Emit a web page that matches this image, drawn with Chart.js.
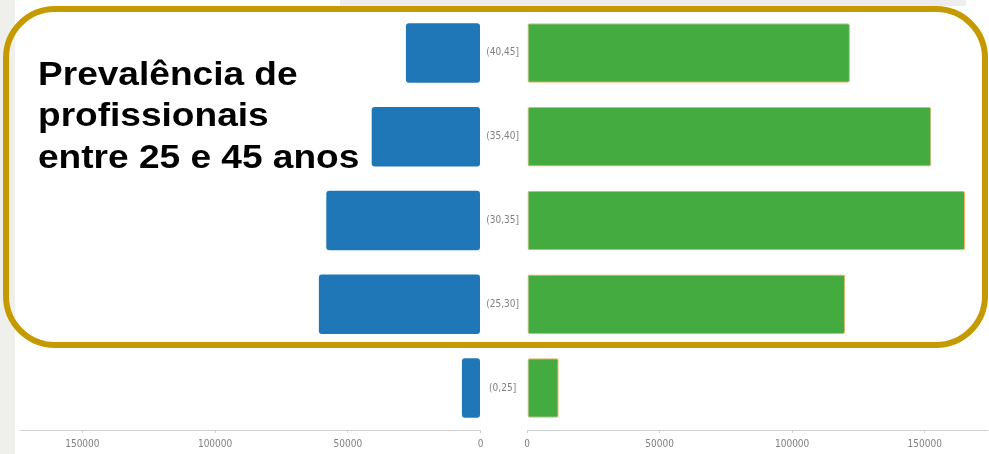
<!DOCTYPE html>
<html>
<head>
<meta charset="utf-8">
<script src="https://cdn.jsdelivr.net/npm/chart.js@4/dist/chart.umd.min.js"></script>
<style>
  html, body { margin: 0; padding: 0; background: #ffffff; }
  #wrap { position: relative; width: 989px; height: 454px; overflow: hidden; background: #fff; }
  #leftStrip { position: absolute; left: 0; top: 0; width: 15px; height: 454px; background: #eff0ec; }
  #topBand { position: absolute; left: 340px; top: 0; width: 626px; height: 6px; background: #ededed; }
  #cLeft { position: absolute; left: 0; top: 0; }
  #cRight { position: absolute; left: 480px; top: 0; }
  #frame { position: absolute; left: 3px; top: 6px; width: 985px; height: 342px; box-sizing: border-box;
           border: 6px solid #c59a00; border-radius: 52px; pointer-events: none; }
  #note { position: absolute; left: 38px; top: 52.5px; font-family: "Liberation Sans", Arial, sans-serif;
          font-weight: bold; font-size: 34px; line-height: 41.5px; color: #000; white-space: nowrap;
          transform: scaleX(1.09); transform-origin: 0 0; }
</style>
</head>
<body>
<div id="wrap">
  <div id="leftStrip"></div>
  <div id="topBand"></div>
  <canvas id="cLeft" width="495" height="454"></canvas>
  <canvas id="cRight" width="509" height="454"></canvas>
  <div id="frame"></div>
  <div id="note">Prevalência de<br>profissionais<br>entre 25 e 45 anos</div>
</div>
<script>
const categories = ['(40,45]', '(35,40]', '(30,35]', '(25,30]', '(0,25]'];
const leftValues = [28100, 41000, 58100, 60900, 7000];
const rightValues = [121800, 152500, 165200, 120000, 11950];
const tickValues = [0, 50000, 100000, 150000];
const axisMax = 173500;

const tickFont = { family: "'Liberation Sans Narrow', 'DejaVu Sans Condensed', sans-serif", size: 10 };
const tickColor = '#808080';

function xAxis(reverse) {
  return {
    type: 'linear',
    min: 0,
    max: axisMax,
    reverse: reverse,
    position: 'bottom',
    afterBuildTicks: s => { s.ticks = tickValues.map(v => ({ value: v })); },
    afterFit: s => { s.height = 24; s.paddingLeft = 0; s.paddingRight = 0; },
    grid: { display: true, drawOnChartArea: false, drawTicks: true, tickLength: 3, color: '#cfcfcf' },
    border: { display: true, color: '#cfcfcf', width: 1 },
    ticks: { font: tickFont, color: tickColor, padding: 5, maxRotation: 0, autoSkip: false,
             callback: v => String(v) }
  };
}

new Chart(document.getElementById('cLeft'), {
  type: 'bar',
  data: {
    labels: categories,
    datasets: [{
      data: leftValues,
      backgroundColor: '#2077b7',
      borderWidth: 0,
      borderRadius: 3,
      borderSkipped: false,
      barPercentage: 0.71,
      categoryPercentage: 1
    }]
  },
  options: {
    indexAxis: 'y',
    responsive: false,
    animation: false,
    layout: { padding: { left: 20, right: 14.5, top: 11, bottom: 0 } },
    plugins: { legend: { display: false }, tooltip: { enabled: false } },
    scales: {
      x: xAxis(true),
      y: { display: false }
    }
  }
});

new Chart(document.getElementById('cRight'), {
  type: 'bar',
  data: {
    labels: categories,
    datasets: [{
      data: rightValues,
      backgroundColor: '#43ab3f',
      borderColor: '#f2ad62',
      borderWidth: 1,
      borderRadius: 2,
      borderSkipped: false,
      barPercentage: 0.71,
      categoryPercentage: 1
    }]
  },
  options: {
    indexAxis: 'y',
    responsive: false,
    animation: false,
    layout: { padding: { left: 0, right: 2, top: 11, bottom: 0 } },
    plugins: { legend: { display: false }, tooltip: { enabled: false } },
    scales: {
      x: xAxis(false),
      y: {
        position: 'left',
        afterFit: s => { s.width = 47; s.paddingTop = 0; s.paddingBottom = 0; },
        grid: { display: false, drawTicks: false },
        border: { display: false },
        ticks: { font: tickFont, color: tickColor, padding: 8, crossAlign: 'center' }
      }
    }
  }
});
</script>
</body>
</html>
